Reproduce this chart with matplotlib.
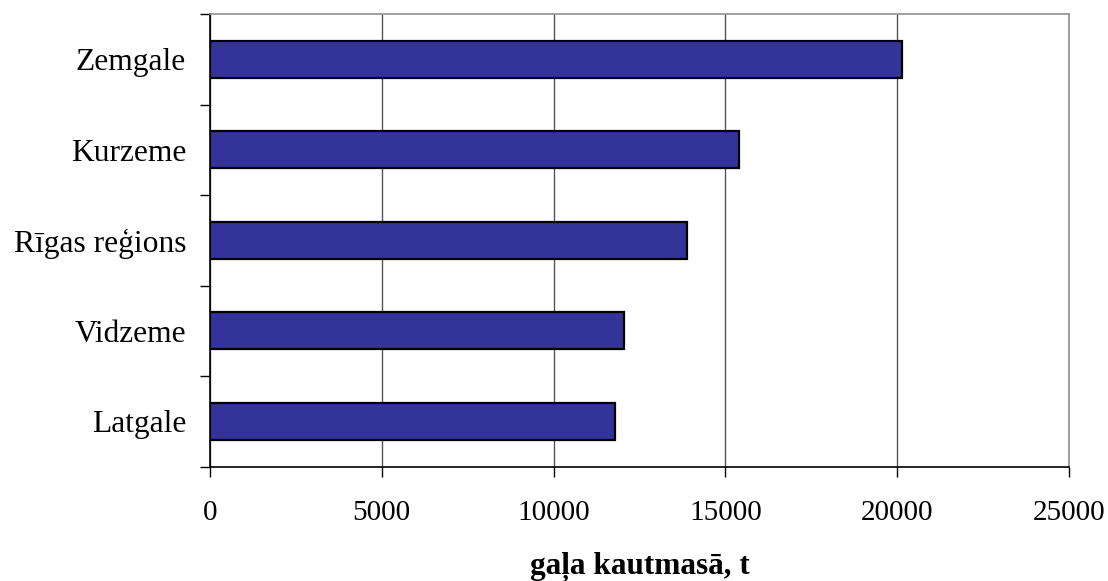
import matplotlib
matplotlib.use("Agg")
import matplotlib.pyplot as plt
import numpy as np

categories = ["Latgale", "Vidzeme", "Rīgas reģions", "Kurzeme", "Zemgale"]
values = [11780, 12060, 13870, 15400, 20130]
xticks = [0, 5000, 10000, 15000, 20000, 25000]
xlabel = "gaļa kautmasā, t"

plt.rcParams['font.family'] = ['Liberation Serif', 'DejaVu Serif']

fig = plt.figure(figsize=(11.08, 5.81), dpi=100)
ax = fig.add_axes([0.1893, 0.1967, 0.7758, 0.7792])

y = np.arange(len(categories))
ax.barh(y, values, height=0.41, color="#333399", edgecolor="black", linewidth=1.6, zorder=3)

ax.set_xlim(0, 25000)
ax.set_ylim(-0.5, len(categories) - 0.5)
ax.set_xticks(xticks)
ax.set_xticklabels([str(t) for t in xticks], fontsize=21)
ax.set_yticks(y)
ax.set_yticklabels(categories, fontsize=22.7)
ax.set_yticks(np.arange(-0.5, len(categories), 1.0), minor=True)
ax.tick_params(axis='y', which='major', length=0, pad=17)
ax.tick_params(axis='y', which='minor', length=7, width=1, direction='out', color='black')
ax.tick_params(axis='x', which='major', length=7, width=1, direction='out', pad=17, color='black')

ax.grid(axis='x', color="#555555", linewidth=1, zorder=0)
ax.set_axisbelow(True)

for s in ['top', 'right']:
    ax.spines[s].set_color('#909090')
    ax.spines[s].set_linewidth(1.2)
for s in ['left', 'bottom']:
    ax.spines[s].set_color('black')
    ax.spines[s].set_linewidth(1.2)

ax.set_xlabel(xlabel, fontsize=22.5, fontweight='bold', labelpad=19)

fig.savefig("out.png", dpi=100)
